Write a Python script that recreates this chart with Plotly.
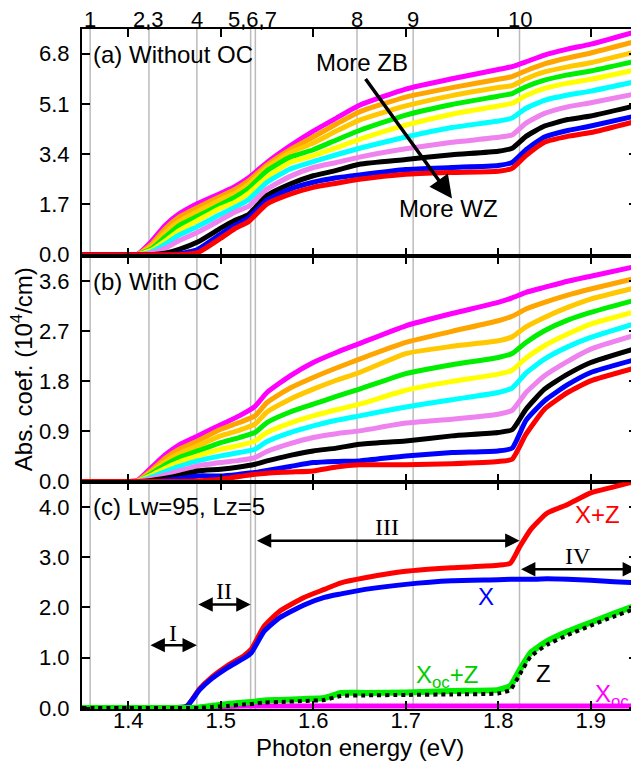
import plotly.graph_objects as go
from plotly.subplots import make_subplots

# ---------------- data ----------------
E_A = [1.35, 1.40, 1.41, 1.425, 1.44, 1.455, 1.475, 1.50, 1.515, 1.53, 1.55, 1.575,
       1.60, 1.625, 1.65, 1.70, 1.75, 1.80, 1.815, 1.83, 1.85, 1.875, 1.90, 1.95]
magenta_a = [0, 0, 0.02, 0.45, 1.0, 1.38, 1.73, 2.08, 2.3, 2.6, 3.12, 3.68, 4.18, 4.62, 5.05, 5.6, 5.95, 6.26, 6.36, 6.52, 6.75, 6.95, 7.12, 7.55]
orange_a = [0, 0, 0.01, 0.35, 0.88, 1.27, 1.6, 1.98, 2.2, 2.5, 3.03, 3.55, 3.98, 4.42, 4.83, 5.33, 5.65, 5.93, 6.02, 6.22, 6.45, 6.65, 6.82, 7.22]
gold_a = [0, 0, 0, 0.28, 0.75, 1.12, 1.46, 1.86, 2.07, 2.38, 2.95, 3.45, 3.78, 4.18, 4.55, 5.03, 5.38, 5.65, 5.72, 5.95, 6.18, 6.35, 6.49, 6.87]
green_a = [0, 0, 0, 0.2, 0.6, 0.99, 1.3, 1.7, 1.94, 2.24, 2.84, 3.3, 3.55, 3.88, 4.2, 4.72, 5.08, 5.36, 5.45, 5.68, 5.9, 6.08, 6.21, 6.55]
yellow_a = [0, 0, 0, 0.15, 0.47, 0.82, 1.16, 1.58, 1.77, 2.07, 2.62, 3.12, 3.35, 3.62, 3.9, 4.38, 4.75, 5.03, 5.12, 5.38, 5.62, 5.8, 5.93, 6.26]
cyan_a = [0, 0, 0, 0.1, 0.36, 0.67, 0.96, 1.37, 1.6, 1.86, 2.45, 2.9, 3.15, 3.38, 3.6, 3.98, 4.3, 4.52, 4.62, 4.95, 5.22, 5.4, 5.53, 5.86]
violet_a = [0, 0, 0, 0.06, 0.22, 0.48, 0.76, 1.18, 1.44, 1.64, 2.22, 2.65, 2.95, 3.12, 3.3, 3.58, 3.8, 3.97, 4.05, 4.45, 4.78, 5.0, 5.14, 5.45]
black_a = [0, 0, 0, 0, 0.05, 0.18, 0.43, 0.9, 1.16, 1.36, 2.0, 2.39, 2.67, 2.85, 3.06, 3.22, 3.38, 3.5, 3.6, 4.0, 4.35, 4.57, 4.69, 5.05]
blue_a = [0, 0, 0, 0, 0, 0.03, 0.18, 0.7, 0.99, 1.25, 1.85, 2.22, 2.45, 2.6, 2.7, 2.88, 2.95, 3.02, 3.12, 3.55, 3.98, 4.2, 4.35, 4.7]
red_a = [0, 0, 0, 0, 0, 0, 0.07, 0.56, 0.88, 1.12, 1.72, 2.05, 2.28, 2.42, 2.55, 2.72, 2.78, 2.82, 2.92, 3.35, 3.8, 4.0, 4.13, 4.52]

E_B = [1.35, 1.40, 1.41, 1.425, 1.44, 1.455, 1.475, 1.50, 1.52, 1.537, 1.55, 1.575,
       1.60, 1.625, 1.65, 1.70, 1.75, 1.80, 1.815, 1.83, 1.85, 1.875, 1.90, 1.95]
magenta_b = [0, 0, 0.02, 0.25, 0.48, 0.66, 0.82, 1.02, 1.18, 1.35, 1.6, 1.9, 2.14, 2.32, 2.48, 2.8, 3.02, 3.22, 3.3, 3.4, 3.49, 3.6, 3.69, 3.87]
orange_b = [0, 0, 0.01, 0.2, 0.42, 0.58, 0.73, 0.94, 1.06, 1.18, 1.42, 1.68, 1.87, 2.04, 2.2, 2.5, 2.7, 2.89, 2.97, 3.1, 3.22, 3.35, 3.46, 3.66]
gold_b = [0, 0, 0, 0.17, 0.36, 0.5, 0.64, 0.82, 0.92, 1.03, 1.25, 1.48, 1.66, 1.82, 1.96, 2.3, 2.43, 2.53, 2.6, 2.78, 2.95, 3.13, 3.28, 3.49]
green_b = [0, 0, 0, 0.14, 0.3, 0.43, 0.55, 0.7, 0.79, 0.88, 1.06, 1.25, 1.39, 1.53, 1.66, 1.94, 2.1, 2.23, 2.3, 2.5, 2.71, 2.9, 3.04, 3.27]
yellow_b = [0, 0, 0, 0.11, 0.24, 0.35, 0.46, 0.58, 0.65, 0.73, 0.88, 1.05, 1.18, 1.29, 1.39, 1.64, 1.8, 1.93, 2.0, 2.22, 2.44, 2.65, 2.83, 3.06]
cyan_b = [0, 0, 0, 0.08, 0.18, 0.27, 0.37, 0.46, 0.52, 0.58, 0.72, 0.88, 1.0, 1.1, 1.18, 1.34, 1.47, 1.6, 1.68, 1.95, 2.2, 2.42, 2.59, 2.85]
violet_b = [0, 0, 0, 0.05, 0.12, 0.19, 0.28, 0.34, 0.38, 0.43, 0.54, 0.68, 0.79, 0.86, 0.91, 1.05, 1.12, 1.21, 1.28, 1.6, 1.9, 2.16, 2.38, 2.64]
black_b = [0, 0, 0, 0.02, 0.06, 0.11, 0.19, 0.22, 0.26, 0.31, 0.37, 0.47, 0.55, 0.6, 0.67, 0.73, 0.82, 0.88, 0.93, 1.3, 1.66, 1.93, 2.14, 2.4]
blue_b = [0, 0, 0, 0, 0.02, 0.05, 0.1, 0.1, 0.13, 0.16, 0.2, 0.27, 0.34, 0.36, 0.37, 0.46, 0.52, 0.55, 0.6, 1.1, 1.45, 1.74, 1.96, 2.2]
red_b = [0, 0, 0, 0, 0, 0, 0.01, 0.04, 0.09, 0.13, 0.15, 0.17, 0.19, 0.26, 0.3, 0.3, 0.32, 0.36, 0.4, 0.85, 1.3, 1.6, 1.81, 2.05]

E_C = [1.35, 1.40, 1.45, 1.463, 1.477, 1.49, 1.507, 1.525, 1.533, 1.547, 1.564, 1.59, 1.612,
       1.63, 1.656, 1.70, 1.75, 1.80, 1.813, 1.823, 1.835, 1.853, 1.875, 1.90, 1.925, 1.95]
xz_c = [0, 0, 0.01, 0.03, 0.38, 0.61, 0.84, 1.04, 1.17, 1.63, 1.93, 2.2, 2.36, 2.49, 2.59, 2.72, 2.79, 2.84, 2.88, 3.2, 3.55, 3.88, 4.05, 4.28, 4.4, 4.52]
x_c = [0, 0, 0.01, 0.03, 0.36, 0.58, 0.8, 0.99, 1.1, 1.53, 1.8, 2.05, 2.2, 2.27, 2.36, 2.46, 2.53, 2.55, 2.56, 2.56, 2.56, 2.57, 2.56, 2.54, 2.51, 2.49]
xocz_c = [0, 0, 0, 0, 0.01, 0.04, 0.08, 0.11, 0.12, 0.15, 0.16, 0.18, 0.2, 0.3, 0.3, 0.31, 0.34, 0.36, 0.44, 0.75, 1.1, 1.33, 1.52, 1.7, 1.88, 2.05]
z_c = [0, 0, 0, 0, 0, 0.02, 0.04, 0.07, 0.08, 0.11, 0.12, 0.14, 0.16, 0.24, 0.25, 0.26, 0.27, 0.29, 0.36, 0.66, 1.02, 1.26, 1.45, 1.64, 1.82, 1.99]
xoc_c = [0, 0, 0, 0, 0.01, 0.02, 0.03, 0.04, 0.04, 0.04, 0.04, 0.04, 0.04, 0.04, 0.04, 0.04, 0.04, 0.04, 0.04, 0.04, 0.04, 0.04, 0.04, 0.04, 0.04, 0.04]

GRID_E = [1.3588, 1.4224, 1.4742, 1.5323, 1.5374, 1.6473, 1.708, 1.823]
TOP_LABELS = ["1", "2,3", "4", "5,6,7", "8", "9", "10"]
TOP_LABEL_E = [1.3588, 1.4222, 1.4742, 1.5339, 1.6473, 1.708, 1.823]

YT_A = [0, 1.7, 3.4, 5.1, 6.8]
YT_B = [0, 0.9, 1.8, 2.7, 3.6]
YT_C = [0, 1, 2, 3, 4]

# ---------------- figure ----------------
FONT = "Liberation Sans, Arial, Helvetica, sans-serif"
SERIF = "Liberation Serif, Times New Roman, serif"
LW = 5

fig = make_subplots(rows=3, cols=1, shared_xaxes=True, vertical_spacing=0)

series_a = [(magenta_a, "#FF00FF"), (orange_a, "#FFA500"), (gold_a, "#FFC800"),
            (green_a, "#00EE00"), (yellow_a, "#FFFF00"), (cyan_a, "#00FFFF"),
            (violet_a, "#EE82EE"), (black_a, "#000000"), (blue_a, "#0000FF"),
            (red_a, "#FF0000")]
series_b = [(magenta_b, "#FF00FF"), (orange_b, "#FFA500"), (gold_b, "#FFC800"),
            (green_b, "#00EE00"), (yellow_b, "#FFFF00"), (cyan_b, "#00FFFF"),
            (violet_b, "#EE82EE"), (black_b, "#000000"), (blue_b, "#0000FF"),
            (red_b, "#FF0000")]
for ys, c in series_a:
    fig.add_trace(go.Scatter(x=E_A, y=ys, mode="lines", line=dict(color=c, width=LW, shape="spline", smoothing=0.5)), row=1, col=1)
for ys, c in series_b:
    fig.add_trace(go.Scatter(x=E_B, y=ys, mode="lines", line=dict(color=c, width=LW, shape="spline", smoothing=0.5)), row=2, col=1)

fig.add_trace(go.Scatter(x=E_C, y=xz_c, mode="lines", line=dict(color="#FF0000", width=LW, shape="spline", smoothing=0.5)), row=3, col=1)
fig.add_trace(go.Scatter(x=E_C, y=x_c, mode="lines", line=dict(color="#0000FF", width=LW, shape="spline", smoothing=0.5)), row=3, col=1)
fig.add_trace(go.Scatter(x=E_C, y=xoc_c, mode="lines", line=dict(color="#FF00FF", width=LW, shape="spline", smoothing=0.5)), row=3, col=1)
fig.add_trace(go.Scatter(x=E_C, y=xocz_c, mode="lines", line=dict(color="#00EE00", width=LW + 1, shape="spline", smoothing=0.5)), row=3, col=1)
fig.add_trace(go.Scatter(x=E_C, y=z_c, mode="lines", line=dict(color="#000000", width=4, dash="dot", shape="spline", smoothing=0.5)), row=3, col=1)

# axes
axis_common = dict(showline=True, linecolor="black", linewidth=2, mirror="ticks",
                   ticks="inside", ticklen=8, tickwidth=2, tickcolor="black",
                   showgrid=False, zeroline=False,
                   tickfont=dict(family=FONT, size=22, color="black"))
for r in (1, 2, 3):
    fig.update_xaxes(range=[1.35, 1.95], tick0=1.4, dtick=0.1, row=r, col=1, **axis_common)
fig.update_xaxes(showticklabels=False, row=1, col=1)
fig.update_xaxes(showticklabels=False, row=2, col=1)
fig.update_xaxes(showticklabels=True, tickformat=".1f", ticklabelstandoff=-9, row=3, col=1)

fig.update_yaxes(range=[-0.03, 7.63], tickvals=YT_A, ticktext=[f"{v:.1f}" for v in YT_A],
                 ticklabelstandoff=6, row=1, col=1, **axis_common)
fig.update_yaxes(range=[-0.015, 4.06], tickvals=YT_B, ticktext=[f"{v:.1f}" for v in YT_B],
                 ticklabelstandoff=6, row=2, col=1, **axis_common)
fig.update_yaxes(range=[-0.02, 4.49], tickvals=YT_C, ticktext=[f"{v:.1f}" for v in YT_C],
                 ticklabelstandoff=6, row=3, col=1, **axis_common)

# vertical gray lines
for e in GRID_E:
    fig.add_shape(type="line", xref="x3", yref="paper", x0=e, x1=e, y0=0, y1=1,
                  line=dict(color="#BBBBBB", width=1.5), layer="below")

ann = []
for lab, e in zip(TOP_LABELS, TOP_LABEL_E):
    ann.append(dict(text=lab, x=e, xref="x3", y=1.0135, yref="paper", showarrow=False,
                    xanchor="center", yanchor="middle", font=dict(family=FONT, size=22, color="black")))

T = dict(family=FONT, size=24, color="black")
ann += [
    dict(text="(a) Without OC", x=1.3595, y=6.77, xref="x", yref="y", showarrow=False, xanchor="left", yanchor="middle", font=T),
    dict(text="(b) With OC", x=1.3595, y=3.6, xref="x2", yref="y2", showarrow=False, xanchor="left", yanchor="middle", font=T),
    dict(text="(c) Lw=95, Lz=5", x=1.3595, y=4.0, xref="x3", yref="y3", showarrow=False, xanchor="left", yanchor="middle", font=T),
    dict(text="More ZB", x=1.6532, y=6.5, xref="x", yref="y", showarrow=False, font=T),
    dict(text="More WZ", x=1.7457, y=1.55, xref="x", yref="y", showarrow=False, font=T),
    dict(text="", x=1.75, y=1.9, xref="x", yref="y", ax=1.6554, ay=5.99, axref="x", ayref="y",
         showarrow=True, arrowhead=2, arrowsize=1.3, arrowwidth=3.5, arrowcolor="black", standoff=0),
    dict(text="X+Z", x=1.9077, y=3.85, xref="x3", yref="y3", showarrow=False, font=dict(family=FONT, size=24, color="#FF0000")),
    dict(text="X", x=1.7866, y=2.22, xref="x3", yref="y3", showarrow=False, font=dict(family=FONT, size=24, color="#0000FF")),
    dict(text="X<sub>oc</sub>+Z", x=1.7446, y=0.62, xref="x3", yref="y3", showarrow=False, font=dict(family=FONT, size=24, color="#00CC00")),
    dict(text="Z", x=1.8486, y=0.69, xref="x3", yref="y3", showarrow=False, font=dict(family=FONT, size=24, color="black")),
    dict(text="X<sub>oc</sub>", x=1.9231, y=0.25, xref="x3", yref="y3", showarrow=False, font=dict(family=FONT, size=24, color="#FF00FF")),
]

# region arrows (double-headed)
regions = [("I", 1.4224, 1.4742, 1.25, 1.49),
           ("II", 1.4742, 1.5323, 2.06, 2.32),
           ("III", 1.5374, 1.823, 3.33, 3.6),
           ("IV", 1.823, 1.95, 2.76, 3.02)]
for lab, e0, e1, yv, ylab in regions:
    ann.append(dict(text="", x=e1, y=yv, ax=e0, ay=yv, xref="x3", yref="y3", axref="x3", ayref="y3",
                    showarrow=True, arrowhead=2, startarrowhead=2, arrowside="end+start",
                    arrowsize=1.15, startarrowsize=1.15, arrowwidth=2.5, arrowcolor="black", standoff=0, startstandoff=0))
    ann.append(dict(text=lab, x=(e0 + e1) / 2, y=ylab, xref="x3", yref="y3", showarrow=False,
                    font=dict(family=SERIF, size=24, color="black")))

ann.append(dict(text="Photon energy (eV)", x=0.5, y=-0.056, xref="paper", yref="paper", showarrow=False,
                xanchor="center", yanchor="middle", font=T))
ann.append(dict(text="Abs. coef. (10<sup>4</sup>/cm)", x=-0.1077, y=0.5, xref="paper", yref="paper",
                showarrow=False, textangle=-90, xanchor="center", yanchor="middle", font=T))

# the page body adds an 8px margin; compensate so the plot lands where the reference has it
fig.update_layout(annotations=ann, showlegend=False, width=631, height=755,
                  margin=dict(l=74, r=0, t=21, b=54),
                  plot_bgcolor="white", paper_bgcolor="white",
                  font=dict(family=FONT, color="black"))

fig.write_html("out.html")
